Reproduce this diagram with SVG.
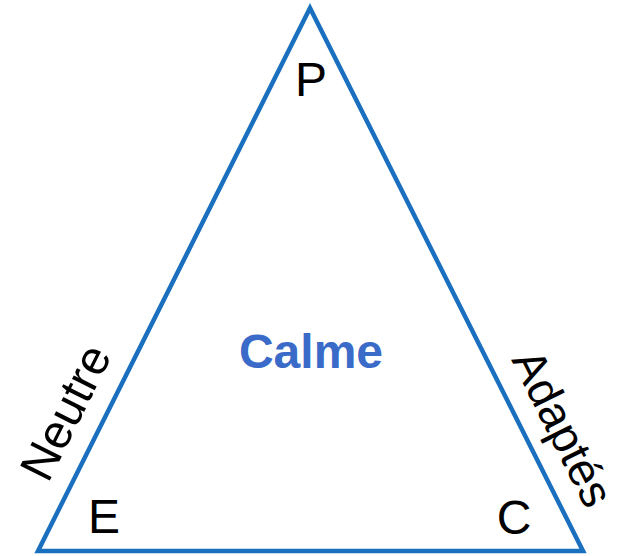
<svg xmlns="http://www.w3.org/2000/svg" width="617" height="556" viewBox="0 0 617 556">
<style>
.t{font-family:"Liberation Sans",Arial,sans-serif;font-size:48px;fill:#000;text-anchor:middle}
.c{font-weight:bold;fill:#3A6BC8}
</style>
<rect width="617" height="556" fill="#fff"/>
<g id="triangle">
<polygon points="310,8 38,551 583,551" fill="none" stroke="#1A6FBE" stroke-width="4.5" stroke-linejoin="miter"/>
</g>
<g id="labels">
<text class="t" x="311" y="96">P</text>
<text class="t" x="104" y="533">E</text>
<text class="t" x="514" y="534">C</text>
<text class="t c" x="311" y="368">Calme</text>
<text class="t" transform="translate(65,412) rotate(-63.4)" x="0" y="17">Neutre</text>
<text class="t" transform="translate(563,428) rotate(63.4)" x="0" y="16" style="font-size:46px">Adaptés</text>
</g>
</svg>
